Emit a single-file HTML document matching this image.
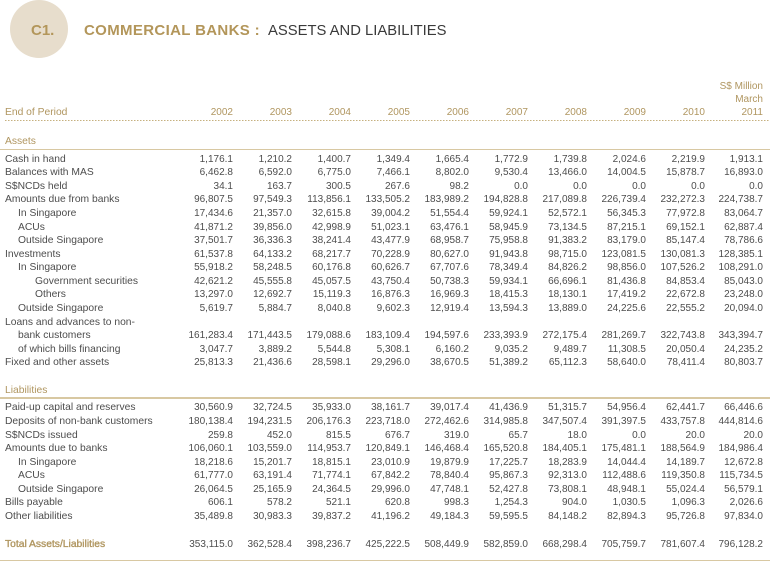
<!DOCTYPE html>
<html><head><meta charset="utf-8">
<style>
html,body{margin:0;padding:0;background:#fff;}
#w{position:relative;width:770px;height:562px;overflow:hidden;font-family:"Liberation Sans",Arial,sans-serif;color:#4d4d4d;}
.circ{position:absolute;left:10px;top:0px;width:58px;height:58px;border-radius:50%;background:#e7ddcc;}
.t{position:absolute;top:21.5px;height:18px;line-height:18px;font-size:15px;white-space:nowrap;}
.gold{color:#b3965a;}
.tan{color:#b09660;}
.r{position:absolute;left:0;width:770px;height:13px;line-height:13px;font-size:10.3px;white-space:nowrap;}
.r .l{position:absolute;left:5px;}
.r .l1{left:18px;}
.r .l2{left:35px;}
.r span.n{position:absolute;font-size:10px;}
.n1{right:537px}.n2{right:478px}.n3{right:419px}.n4{right:360px}.n5{right:301px}
.n6{right:242px}.n7{right:183px}.n8{right:124px}.n9{right:65px}.n10{right:7px}
.dot{position:absolute;left:5px;top:119.5px;width:765px;height:1.6px;background:repeating-linear-gradient(to right,#c6b07f 0 1.5px,transparent 1.5px 3px);}
.sol{position:absolute;left:0;width:770px;height:1.6px;background:#d8c8a2;}
</style></head><body><div id="w">
<div class="circ"></div>
<div class="t gold" style="left:31px;font-weight:bold;">C1.</div>
<div class="t gold" style="left:84px;font-weight:bold;letter-spacing:0.35px;">COMMERCIAL BANKS :</div>
<div class="t" style="left:268px;color:#3a3a3a;font-size:14.8px;">ASSETS AND LIABILITIES</div>

<div class="r tan" style="top:79.7px"><span class="n n10">S$ Million</span></div>
<div class="r tan" style="top:93px"><span class="n n10">March</span></div>
<div class="r tan" style="top:105.7px"><span class="l">End of Period</span><span class="n n1">2002</span><span class="n n2">2003</span><span class="n n3">2004</span><span class="n n4">2005</span><span class="n n5">2006</span><span class="n n6">2007</span><span class="n n7">2008</span><span class="n n8">2009</span><span class="n n9">2010</span><span class="n n10">2011</span></div>
<div class="dot"></div>

<div class="r tan" style="top:135.4px"><span class="l">Assets</span></div>
<div class="sol" style="top:148.6px"></div>

<div class="r" style="top:152.7px"><span class="l">Cash in hand</span><span class="n n1">1,176.1</span><span class="n n2">1,210.2</span><span class="n n3">1,400.7</span><span class="n n4">1,349.4</span><span class="n n5">1,665.4</span><span class="n n6">1,772.9</span><span class="n n7">1,739.8</span><span class="n n8">2,024.6</span><span class="n n9">2,219.9</span><span class="n n10">1,913.1</span></div>
<div class="r" style="top:166.3px"><span class="l">Balances with MAS</span><span class="n n1">6,462.8</span><span class="n n2">6,592.0</span><span class="n n3">6,775.0</span><span class="n n4">7,466.1</span><span class="n n5">8,802.0</span><span class="n n6">9,530.4</span><span class="n n7">13,466.0</span><span class="n n8">14,004.5</span><span class="n n9">15,878.7</span><span class="n n10">16,893.0</span></div>
<div class="r" style="top:179.8px"><span class="l">S$NCDs held</span><span class="n n1">34.1</span><span class="n n2">163.7</span><span class="n n3">300.5</span><span class="n n4">267.6</span><span class="n n5">98.2</span><span class="n n6">0.0</span><span class="n n7">0.0</span><span class="n n8">0.0</span><span class="n n9">0.0</span><span class="n n10">0.0</span></div>
<div class="r" style="top:193.4px"><span class="l">Amounts due from banks</span><span class="n n1">96,807.5</span><span class="n n2">97,549.3</span><span class="n n3">113,856.1</span><span class="n n4">133,505.2</span><span class="n n5">183,989.2</span><span class="n n6">194,828.8</span><span class="n n7">217,089.8</span><span class="n n8">226,739.4</span><span class="n n9">232,272.3</span><span class="n n10">224,738.7</span></div>
<div class="r" style="top:207px"><span class="l l1">In Singapore</span><span class="n n1">17,434.6</span><span class="n n2">21,357.0</span><span class="n n3">32,615.8</span><span class="n n4">39,004.2</span><span class="n n5">51,554.4</span><span class="n n6">59,924.1</span><span class="n n7">52,572.1</span><span class="n n8">56,345.3</span><span class="n n9">77,972.8</span><span class="n n10">83,064.7</span></div>
<div class="r" style="top:220.5px"><span class="l l1">ACUs</span><span class="n n1">41,871.2</span><span class="n n2">39,856.0</span><span class="n n3">42,998.9</span><span class="n n4">51,023.1</span><span class="n n5">63,476.1</span><span class="n n6">58,945.9</span><span class="n n7">73,134.5</span><span class="n n8">87,215.1</span><span class="n n9">69,152.1</span><span class="n n10">62,887.4</span></div>
<div class="r" style="top:234.1px"><span class="l l1">Outside Singapore</span><span class="n n1">37,501.7</span><span class="n n2">36,336.3</span><span class="n n3">38,241.4</span><span class="n n4">43,477.9</span><span class="n n5">68,958.7</span><span class="n n6">75,958.8</span><span class="n n7">91,383.2</span><span class="n n8">83,179.0</span><span class="n n9">85,147.4</span><span class="n n10">78,786.6</span></div>
<div class="r" style="top:247.7px"><span class="l">Investments</span><span class="n n1">61,537.8</span><span class="n n2">64,133.2</span><span class="n n3">68,217.7</span><span class="n n4">70,228.9</span><span class="n n5">80,627.0</span><span class="n n6">91,943.8</span><span class="n n7">98,715.0</span><span class="n n8">123,081.5</span><span class="n n9">130,081.3</span><span class="n n10">128,385.1</span></div>
<div class="r" style="top:261.3px"><span class="l l1">In Singapore</span><span class="n n1">55,918.2</span><span class="n n2">58,248.5</span><span class="n n3">60,176.8</span><span class="n n4">60,626.7</span><span class="n n5">67,707.6</span><span class="n n6">78,349.4</span><span class="n n7">84,826.2</span><span class="n n8">98,856.0</span><span class="n n9">107,526.2</span><span class="n n10">108,291.0</span></div>
<div class="r" style="top:274.8px"><span class="l l2">Government securities</span><span class="n n1">42,621.2</span><span class="n n2">45,555.8</span><span class="n n3">45,057.5</span><span class="n n4">43,750.4</span><span class="n n5">50,738.3</span><span class="n n6">59,934.1</span><span class="n n7">66,696.1</span><span class="n n8">81,436.8</span><span class="n n9">84,853.4</span><span class="n n10">85,043.0</span></div>
<div class="r" style="top:288.4px"><span class="l l2">Others</span><span class="n n1">13,297.0</span><span class="n n2">12,692.7</span><span class="n n3">15,119.3</span><span class="n n4">16,876.3</span><span class="n n5">16,969.3</span><span class="n n6">18,415.3</span><span class="n n7">18,130.1</span><span class="n n8">17,419.2</span><span class="n n9">22,672.8</span><span class="n n10">23,248.0</span></div>
<div class="r" style="top:302px"><span class="l l1">Outside Singapore</span><span class="n n1">5,619.7</span><span class="n n2">5,884.7</span><span class="n n3">8,040.8</span><span class="n n4">9,602.3</span><span class="n n5">12,919.4</span><span class="n n6">13,594.3</span><span class="n n7">13,889.0</span><span class="n n8">24,225.6</span><span class="n n9">22,555.2</span><span class="n n10">20,094.0</span></div>
<div class="r" style="top:315.5px"><span class="l">Loans and advances to non-</span></div>
<div class="r" style="top:329.1px"><span class="l l1">bank customers</span><span class="n n1">161,283.4</span><span class="n n2">171,443.5</span><span class="n n3">179,088.6</span><span class="n n4">183,109.4</span><span class="n n5">194,597.6</span><span class="n n6">233,393.9</span><span class="n n7">272,175.4</span><span class="n n8">281,269.7</span><span class="n n9">322,743.8</span><span class="n n10">343,394.7</span></div>
<div class="r" style="top:342.7px"><span class="l l1">of which bills financing</span><span class="n n1">3,047.7</span><span class="n n2">3,889.2</span><span class="n n3">5,544.8</span><span class="n n4">5,308.1</span><span class="n n5">6,160.2</span><span class="n n6">9,035.2</span><span class="n n7">9,489.7</span><span class="n n8">11,308.5</span><span class="n n9">20,050.4</span><span class="n n10">24,235.2</span></div>
<div class="r" style="top:356.2px"><span class="l">Fixed and other assets</span><span class="n n1">25,813.3</span><span class="n n2">21,436.6</span><span class="n n3">28,598.1</span><span class="n n4">29,296.0</span><span class="n n5">38,670.5</span><span class="n n6">51,389.2</span><span class="n n7">65,112.3</span><span class="n n8">58,640.0</span><span class="n n9">78,411.4</span><span class="n n10">80,803.7</span></div>

<div class="r tan" style="top:383.7px"><span class="l">Liabilities</span></div>
<div class="sol" style="top:397.2px"></div>

<div class="r" style="top:401.4px"><span class="l">Paid-up capital and reserves</span><span class="n n1">30,560.9</span><span class="n n2">32,724.5</span><span class="n n3">35,933.0</span><span class="n n4">38,161.7</span><span class="n n5">39,017.4</span><span class="n n6">41,436.9</span><span class="n n7">51,315.7</span><span class="n n8">54,956.4</span><span class="n n9">62,441.7</span><span class="n n10">66,446.6</span></div>
<div class="r" style="top:415px"><span class="l">Deposits of non-bank customers</span><span class="n n1">180,138.4</span><span class="n n2">194,231.5</span><span class="n n3">206,176.3</span><span class="n n4">223,718.0</span><span class="n n5">272,462.6</span><span class="n n6">314,985.8</span><span class="n n7">347,507.4</span><span class="n n8">391,397.5</span><span class="n n9">433,757.8</span><span class="n n10">444,814.6</span></div>
<div class="r" style="top:428.5px"><span class="l">S$NCDs issued</span><span class="n n1">259.8</span><span class="n n2">452.0</span><span class="n n3">815.5</span><span class="n n4">676.7</span><span class="n n5">319.0</span><span class="n n6">65.7</span><span class="n n7">18.0</span><span class="n n8">0.0</span><span class="n n9">20.0</span><span class="n n10">20.0</span></div>
<div class="r" style="top:442.1px"><span class="l">Amounts due to banks</span><span class="n n1">106,060.1</span><span class="n n2">103,559.0</span><span class="n n3">114,953.7</span><span class="n n4">120,849.1</span><span class="n n5">146,468.4</span><span class="n n6">165,520.8</span><span class="n n7">184,405.1</span><span class="n n8">175,481.1</span><span class="n n9">188,564.9</span><span class="n n10">184,986.4</span></div>
<div class="r" style="top:455.7px"><span class="l l1">In Singapore</span><span class="n n1">18,218.6</span><span class="n n2">15,201.7</span><span class="n n3">18,815.1</span><span class="n n4">23,010.9</span><span class="n n5">19,879.9</span><span class="n n6">17,225.7</span><span class="n n7">18,283.9</span><span class="n n8">14,044.4</span><span class="n n9">14,189.7</span><span class="n n10">12,672.8</span></div>
<div class="r" style="top:469.3px"><span class="l l1">ACUs</span><span class="n n1">61,777.0</span><span class="n n2">63,191.4</span><span class="n n3">71,774.1</span><span class="n n4">67,842.2</span><span class="n n5">78,840.4</span><span class="n n6">95,867.3</span><span class="n n7">92,313.0</span><span class="n n8">112,488.6</span><span class="n n9">119,350.8</span><span class="n n10">115,734.5</span></div>
<div class="r" style="top:482.8px"><span class="l l1">Outside Singapore</span><span class="n n1">26,064.5</span><span class="n n2">25,165.9</span><span class="n n3">24,364.5</span><span class="n n4">29,996.0</span><span class="n n5">47,748.1</span><span class="n n6">52,427.8</span><span class="n n7">73,808.1</span><span class="n n8">48,948.1</span><span class="n n9">55,024.4</span><span class="n n10">56,579.1</span></div>
<div class="r" style="top:496.4px"><span class="l">Bills payable</span><span class="n n1">606.1</span><span class="n n2">578.2</span><span class="n n3">521.1</span><span class="n n4">620.8</span><span class="n n5">998.3</span><span class="n n6">1,254.3</span><span class="n n7">904.0</span><span class="n n8">1,030.5</span><span class="n n9">1,096.3</span><span class="n n10">2,026.6</span></div>
<div class="r" style="top:510px"><span class="l">Other liabilities</span><span class="n n1">35,489.8</span><span class="n n2">30,983.3</span><span class="n n3">39,837.2</span><span class="n n4">41,196.2</span><span class="n n5">49,184.3</span><span class="n n6">59,595.5</span><span class="n n7">84,148.2</span><span class="n n8">82,894.3</span><span class="n n9">95,726.8</span><span class="n n10">97,834.0</span></div>

<div class="r" style="top:537.5px"><span class="l tan" style="-webkit-text-stroke:0.35px #b09660;">Total Assets/Liabilities</span><span class="n n1">353,115.0</span><span class="n n2">362,528.4</span><span class="n n3">398,236.7</span><span class="n n4">425,222.5</span><span class="n n5">508,449.9</span><span class="n n6">582,859.0</span><span class="n n7">668,298.4</span><span class="n n8">705,759.7</span><span class="n n9">781,607.4</span><span class="n n10">796,128.2</span></div>
<div class="sol" style="top:559.8px"></div>
</div></body></html>
